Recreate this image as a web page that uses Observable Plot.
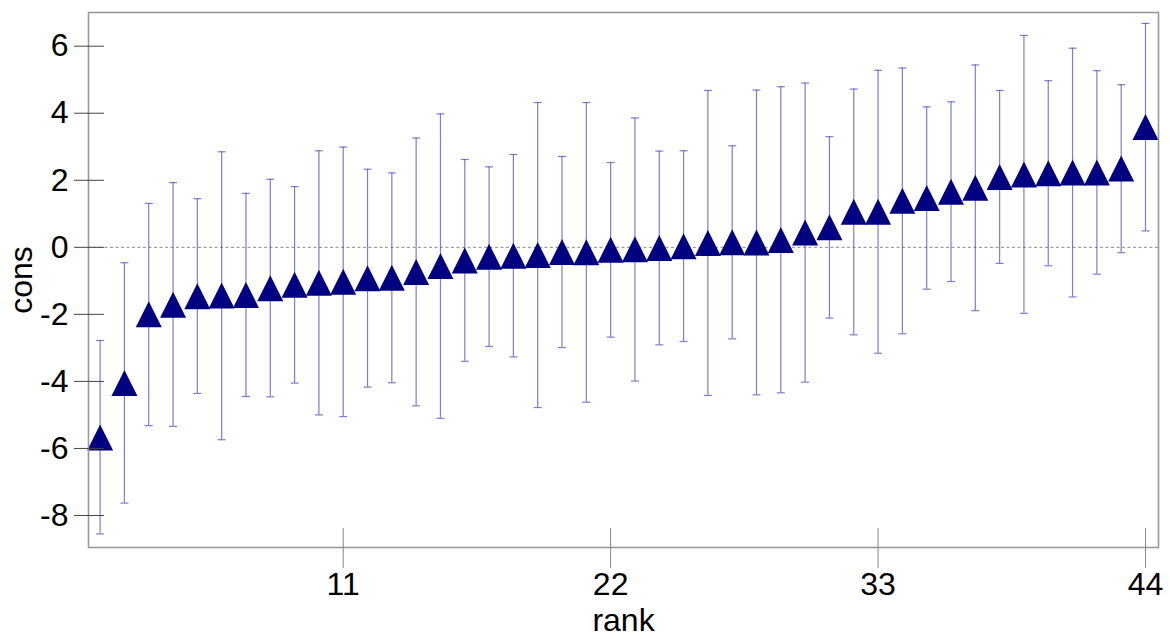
<!DOCTYPE html>
<html>
<head>
<meta charset="utf-8">
<script src="https://cdn.jsdelivr.net/npm/d3@7"></script>
<script src="https://cdn.jsdelivr.net/npm/@observablehq/plot@0.6"></script>
<style>
  html, body { margin: 0; padding: 0; background: #fff; }
  #chart svg { display: block; font-family: "Liberation Sans", Arial, sans-serif; }
</style>
</head>
<body>
<div id="chart"></div>
<script>
const ranks = [1,2,3,4,5,6,7,8,9,10,11,12,13,14,15,16,17,18,19,20,21,22,23,24,25,26,27,28,29,30,31,32,33,34,35,36,37,38,39,40,41,42,43,44];
const cons = [-5.67,-4.05,-2.00,-1.71,-1.46,-1.44,-1.42,-1.22,-1.12,-1.06,-1.03,-0.92,-0.91,-0.74,-0.56,-0.39,-0.28,-0.25,-0.23,-0.14,-0.15,-0.07,-0.06,-0.02,0.03,0.13,0.15,0.14,0.22,0.44,0.60,1.06,1.06,1.39,1.47,1.66,1.78,2.10,2.17,2.21,2.23,2.23,2.35,3.59];
const upper = [-2.78,-0.46,1.31,1.93,1.45,2.85,1.61,2.03,1.81,2.88,2.99,2.33,2.22,3.26,3.98,2.62,2.40,2.77,4.32,2.71,4.32,2.53,3.86,2.87,2.88,4.68,3.03,4.69,4.79,4.90,3.30,4.72,5.28,5.35,4.19,4.34,5.44,4.68,6.32,4.97,5.94,5.27,4.85,6.68];
const lower = [-8.55,-7.63,-5.32,-5.34,-4.36,-5.74,-4.45,-4.46,-4.05,-5.00,-5.05,-4.17,-4.04,-4.73,-5.10,-3.40,-2.96,-3.27,-4.78,-2.99,-4.62,-2.68,-3.99,-2.91,-2.81,-4.42,-2.73,-4.40,-4.34,-4.02,-2.11,-2.61,-3.16,-2.58,-1.25,-1.02,-1.89,-0.48,-1.97,-0.55,-1.48,-0.80,-0.16,0.49];
const xTicks = [11, 22, 33, 44];
const yTicks = [-8, -6, -4, -2, 0, 2, 4, 6];

const data = ranks.map((r, i) => ({rank: r, cons: cons[i], lo: lower[i], hi: upper[i]}));

// triangle centred on its bounding box
const triangle = {
  draw(ctx) {
    ctx.moveTo(0, -13);
    ctx.lineTo(13, 13);
    ctx.lineTo(-13, 13);
    ctx.closePath();
  }
};
const cap = {
  draw(ctx) {
    ctx.moveTo(-4, 0);
    ctx.lineTo(4, 0);
  }
};

const W = 1170, H = 639;
const mL = 88, mR = 12, mT = 12, mB = 92;
const barColor = "#5252bb";
const FS = 32;

const chart = Plot.plot({
  width: W,
  height: H,
  marginLeft: mL,
  marginRight: mR,
  marginTop: mT,
  marginBottom: mB,
  style: {fontFamily: "'Liberation Sans', Arial, sans-serif", background: "#fff"},
  x: {domain: [0.523, 44.535]},
  y: {domain: [-8.955, 7.005]},
  marks: [
    Plot.ruleY([0], {stroke: "#8a8a8a", strokeWidth: 1, strokeDasharray: "3,2.5"}),
    Plot.ruleX(data, {x: "rank", y1: "lo", y2: "hi", stroke: barColor, strokeOpacity: 0.75, strokeWidth: 1.2}),
    Plot.dot(data, {x: "rank", y: "lo", symbol: cap, stroke: barColor, strokeOpacity: 0.75, strokeWidth: 1.2, fill: "none"}),
    Plot.dot(data, {x: "rank", y: "hi", symbol: cap, stroke: barColor, strokeOpacity: 0.75, strokeWidth: 1.2, fill: "none"}),
    Plot.dot(data, {x: "rank", y: "cons", symbol: triangle, fill: "#000080", stroke: "none"}),
    Plot.frame({stroke: "#999", strokeWidth: 1.6}),
    // y ticks crossing the frame
    Plot.ruleY(yTicks, {y: d => d, insetLeft: -14, insetRight: (W - mL - mR) - 16, stroke: "#444", strokeWidth: 1}),
    // x ticks crossing the frame
    Plot.ruleX(xTicks, {x: d => d, insetTop: (H - mT - mB) - 19, insetBottom: -21, stroke: "#888", strokeWidth: 1}),
    Plot.axisY({ticks: yTicks, tickSize: 0, tickPadding: 20, fontSize: FS, label: null, tickFormat: d => String(d).replace("−", "-")}),
    Plot.axisX({ticks: xTicks, tickSize: 0, tickPadding: 25, fontSize: FS, label: null}),
    Plot.text(["cons"], {frameAnchor: "left", dx: -67, rotate: -90, textAnchor: "middle", lineAnchor: "middle", fontSize: FS, fill: "#000"}),
    Plot.text(["rank"], {frameAnchor: "bottom", dy: 73, textAnchor: "middle", lineAnchor: "middle", fontSize: FS, fill: "#000"})
  ]
});
document.getElementById("chart").appendChild(chart);
</script>
</body>
</html>
